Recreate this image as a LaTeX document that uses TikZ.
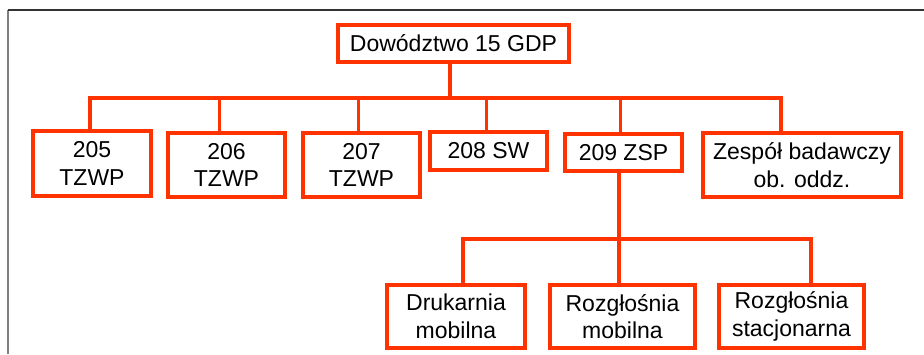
\documentclass[tikz,border=0pt]{standalone}
\usepackage{fontspec}
\setmainfont{Liberation Sans}

\definecolor{orgred}{RGB}{255,51,0}

\tikzset{
	unit/.style={draw=orgred, line width=3.5pt, align=center, inner sep=0pt,
		font=\fontsize{23}{27.5}\selectfont},
	link/.style={draw=orgred, line width=3.5pt},
}

\begin{document}
\begin{tikzpicture}[x=1pt,y=-1pt]

	\useasboundingbox (0,0) rectangle (924,354);

	% frame
	\draw [gray, line width=2pt] (8,354) -- (8,10);
	\draw [black!80, line width=1.3pt] (8,10) -- (924,10);

	% command
	\node [unit, minimum width=231pt, minimum height=37pt] (top) at (453.5,43.5) {Dowództwo 15 GDP};

	% first level
	\node [unit, minimum width=118pt, minimum height=65pt] (u205) at (92,163.5) {205\\TZWP};
	\node [unit, minimum width=117pt, minimum height=64pt] (u206) at (226.5,165) {206\\TZWP};
	\node [unit, minimum width=117pt, minimum height=64pt] (u207) at (361.5,165) {207\\TZWP};
	\node [unit, minimum width=117pt, minimum height=38pt] (u208) at (488.5,151) {208 SW};
	\node [unit, minimum width=117pt, minimum height=37pt] (u209) at (623.5,152.5) {209 ZSP};
	\node [unit, minimum width=198pt, minimum height=64pt] (zes) at (802,165) {Zespół badawczy\\ob. oddz.};

	% second level
	\node [unit, minimum width=138pt, minimum height=63pt] (druk) at (456,316.5) {Drukarnia\\mobilna};
	\node [unit, minimum width=145pt, minimum height=63pt] (rmob) at (622.5,316.5) {Rozgłośnia\\mobilna};
	\node [unit, minimum width=145pt, minimum height=63pt] (rsta) at (791.5,316.5) {Rozgłośnia\\stacjonarna};

	% connectors
	\coordinate (bus) at (450,98);
	\coordinate (sub) at (619,239);

	\draw [link] (top.south -| bus) -- (bus);
	\draw [link] ([xshift=-2pt]u205.north) |- ([xshift=-21pt]zes.north |- bus)
		-- ([xshift=-21pt]zes.north);
	\foreach \n/\dx in {u206/-7,u207/-3,u208/-2,u209/-3}
		\draw [link] ([xshift=\dx pt]\n.north) -- ([xshift=\dx pt]\n.north |- bus);

	\draw [link] (u209.south -| sub) -- (rmob.north -| sub);
	\draw [link] ([xshift=7pt]druk.north) |- ([xshift=19.5pt]rsta.north |- sub)
		-- ([xshift=19.5pt]rsta.north);

\end{tikzpicture}
\end{document}
